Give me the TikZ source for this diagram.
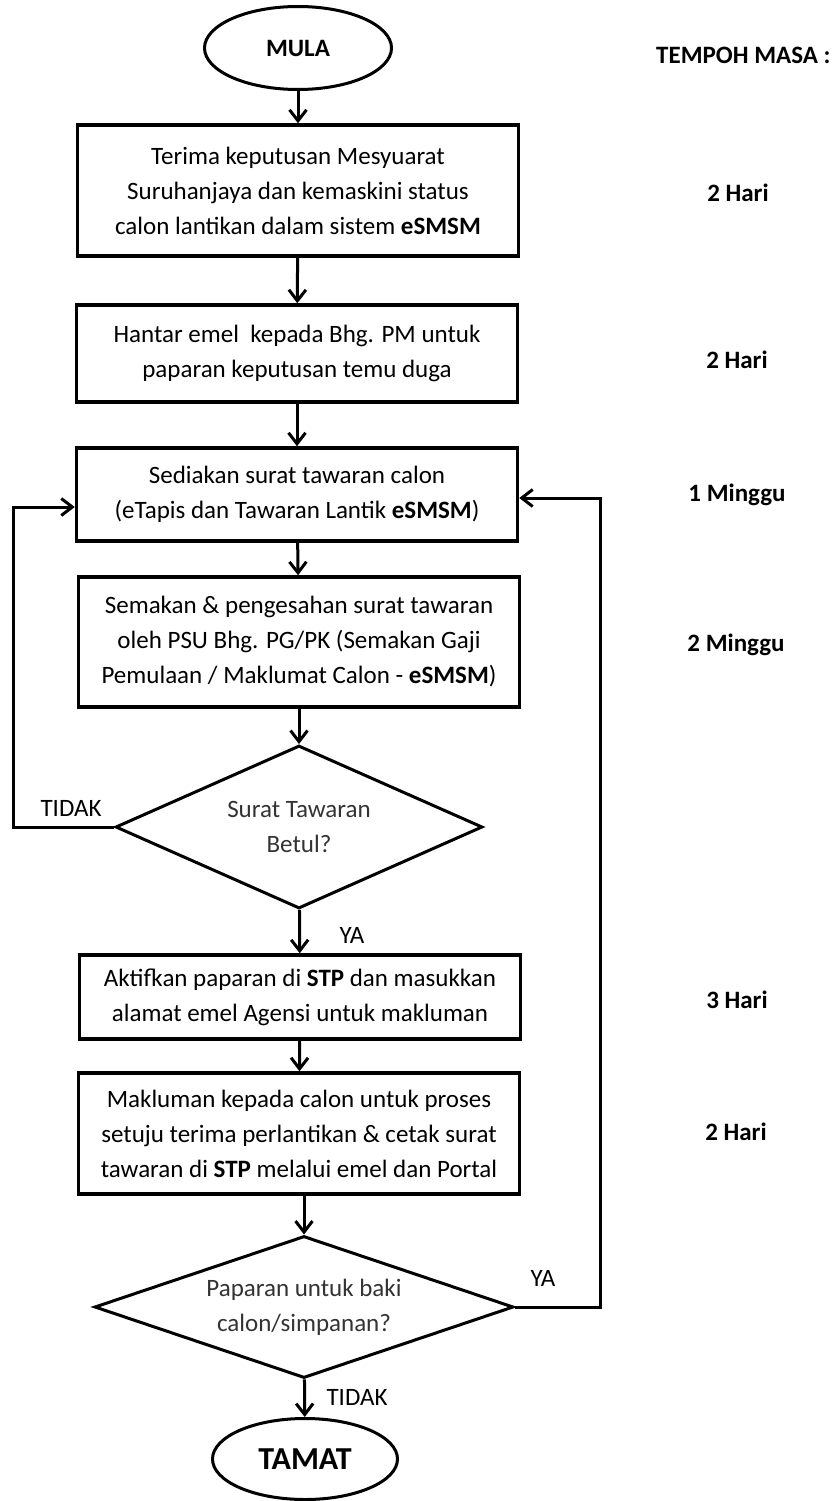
\documentclass[tikz,border=0pt]{standalone}
\usepackage{fontspec}
\setmainfont{Carlito}
\usetikzlibrary{shapes.geometric,arrows.meta}
\begin{document}
\begin{tikzpicture}[x=1pt,y=-1pt,
  font=\fontsize{25}{35}\selectfont,
  >={Straight Barb[length=11pt,width=17pt]},
  proses/.style={draw,line width=3.5pt,minimum width=441pt,align=center,inner sep=0pt},
  keputusan/.style={diamond,draw,line width=3pt,align=center,inner sep=1pt,text=black!80},
  terminal/.style={ellipse,draw,line width=3pt,font=\fontsize{25}{30}\selectfont\bfseries},
  garis/.style={->,line width=3pt},
  masa/.style={font=\fontsize{25}{30}\selectfont\bfseries}]
\useasboundingbox (0,0) rectangle (834,1501);
\node[terminal,minimum width=187pt,minimum height=83pt] (mula) at (298,48) {MULA};
\node[proses,minimum height=131pt] (terima) at (298,190.5) {Terima keputusan Mesyuarat\\Suruhanjaya dan kemaskini status\\calon lantikan dalam sistem \textbf{eSMSM}};
\node[proses,minimum height=97pt] (hantar) at (297,353.5) {Hantar emel~ kepada Bhg. PM untuk\\paparan keputusan temu duga};
\node[proses,minimum height=93pt] (sedia) at (297,494.5) {Sediakan surat tawaran calon\\(eTapis dan Tawaran Lantik \textbf{eSMSM})};
\node[proses,minimum height=130pt] (semak) at (299,642) {Semakan \& pengesahan surat tawaran\\oleh PSU Bhg. PG/PK (Semakan Gaji\\Pemulaan / Maklumat Calon - \textbf{eSMSM})};
\node[keputusan,minimum width=367pt,minimum height=163pt,aspect=2.25] (betul) at (299,827) {Surat Tawaran\\Betul?};
\node[proses,minimum height=84pt] (aktif) at (300,997) {Aktifkan paparan di \textbf{STP} dan masukkan\\alamat emel Agensi untuk makluman};
\node[proses,minimum height=121pt] (maklum) at (299,1133.5) {Makluman kepada calon untuk proses\\setuju terima perlantikan \& cetak surat\\tawaran di \textbf{STP} melalui emel dan Portal};
\node[keputusan,minimum width=419pt,minimum height=142pt,aspect=2.95] (baki) at (304,1307) {Paparan untuk baki\\calon/simpanan?};
\node[terminal,minimum width=185pt,minimum height=81pt,font=\fontsize{32}{36}\selectfont\bfseries] (tamat) at (305,1459) {TAMAT};

\node[masa,anchor=east] (tempoh) at (834,55) {TEMPOH MASA :};
\node[masa] (m1) at (738,193) {2 Hari};
\node[masa] (m2) at (737,360) {2 Hari};
\node[masa] (m3) at (737,495) {1 Minggu};
\node[masa] (m4) at (736,645) {2 Minggu};
\node[masa] (m5) at (737,1000) {3 Hari};
\node[masa] (m6) at (736,1132) {2 Hari};

\draw[garis] (mula) -- (terima);
\draw[garis] (terima) -- (hantar);
\draw[garis] (hantar) -- (sedia);
\draw[garis] (sedia) -- (semak);
\draw[garis] (semak) -- (betul);
\draw[garis] (betul) -- (aktif);
\draw[garis] (aktif) -- (maklum);
\draw[garis] (maklum.south -| baki.north) -- (baki.north);
\draw[garis] (baki) -- (tamat);
\coordinate (kiri) at (13,827);
\coordinate (kanan) at (600,1307);
\draw[garis] (betul.west) -- (kiri) |- ([yshift=-12.5pt]sedia.west);
\draw[garis] (baki.east) -- (kanan) |- ([yshift=-3.5pt]sedia.east);

\node (tidak1) at (71,808) {TIDAK};
\node (ya1) at (352,935) {YA};
\node (ya2) at (543,1278) {YA};
\node (tidak2) at (357,1397) {TIDAK};
\end{tikzpicture}
\end{document}
